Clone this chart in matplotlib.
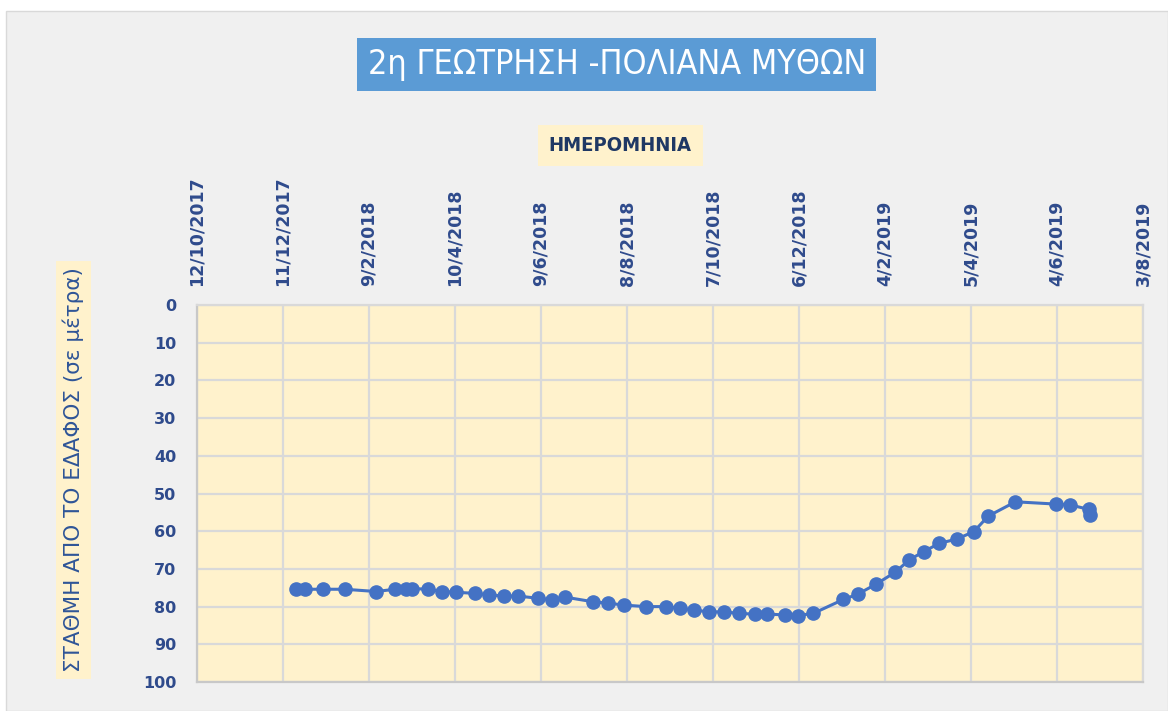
import matplotlib
matplotlib.use("Agg")
import matplotlib.pyplot as plt
import pandas as pd

TITLE = "2η ΓΕΩΤΡΗΣΗ -ΠΟΛΙΑΝΑ ΜΥΘΩΝ"
X_LABEL = "ΗΜΕΡΟΜΗΝΙΑ"
Y_LABEL = "ΣΤΑΘΜΗ ΑΠΟ ΤΟ ΕΔΑΦΟΣ (σε μέτρα)"

# measurement dates and depth to water (m)
dates = [
    "2017-12-20", "2017-12-26", "2018-01-08", "2018-01-23", "2018-02-14",
    "2018-02-27", "2018-03-07", "2018-03-11", "2018-03-22", "2018-04-01",
    "2018-04-11", "2018-04-24", "2018-05-04", "2018-05-14", "2018-05-24",
    "2018-06-07", "2018-06-17", "2018-06-26", "2018-07-15", "2018-07-26",
    "2018-08-06", "2018-08-21", "2018-09-04", "2018-09-14", "2018-09-24",
    "2018-10-04", "2018-10-15", "2018-10-25", "2018-11-05", "2018-11-14",
    "2018-11-26", "2018-12-05", "2018-12-16", "2019-01-06", "2019-01-16",
    "2019-01-29", "2019-02-11", "2019-02-21", "2019-03-03", "2019-03-14",
    "2019-03-26", "2019-04-07", "2019-04-17", "2019-05-06", "2019-06-03",
    "2019-06-13", "2019-06-26", "2019-06-27",
]
depth = [
    75.4, 75.4, 75.4, 75.4, 76.0,
    75.4, 75.4, 75.2, 75.4, 76.0,
    76.2, 76.5, 76.9, 77.2, 77.2,
    77.8, 78.2, 77.5, 78.7, 79.1,
    79.6, 80.0, 80.0, 80.5, 80.9,
    81.4, 81.4, 81.8, 82.0, 82.0,
    82.2, 82.4, 81.8, 78.1, 76.7,
    74.0, 70.9, 67.6, 65.4, 63.2,
    62.1, 60.1, 56.0, 52.2, 52.8,
    53.0, 54.2, 55.7,
]

x_ticks = [
    "2017-10-12", "2017-12-11", "2018-02-09", "2018-04-10", "2018-06-09",
    "2018-08-08", "2018-10-07", "2018-12-06", "2019-02-04", "2019-04-05",
    "2019-06-04", "2019-08-03",
]
x_tick_labels = [
    "12/10/2017", "11/12/2017", "9/2/2018", "10/4/2018", "9/6/2018",
    "8/8/2018", "7/10/2018", "6/12/2018", "4/2/2019", "5/4/2019",
    "4/6/2019", "3/8/2019",
]
y_ticks = [0, 10, 20, 30, 40, 50, 60, 70, 80, 90, 100]

BG = "#f0f0f0"
PLOT_BG = "#fff2cc"
LINE = "#4472c4"
TICK_COLOR = "#2f4b8c"

plt.rcParams["font.family"] = ["DejaVu Sans"]

fig = plt.figure(figsize=(11.68, 7.11), dpi=100, facecolor="white")
# light grey chart area inside a thin white margin
bg = plt.Rectangle((0.005, 0.0), 0.995, 0.985, transform=fig.transFigure,
                   facecolor=BG, edgecolor="#d9d9d9", linewidth=1.0, zorder=-10)
fig.add_artist(bg)

ax = fig.add_axes([0.1687, 0.0408, 0.8099, 0.5302])
ax.set_facecolor(PLOT_BG)

xd = pd.to_datetime(dates)
ax.plot(xd, depth, color=LINE, linewidth=2.2, marker="o", markersize=9.5,
        markerfacecolor=LINE, markeredgecolor=LINE, zorder=3)

tick_dates = pd.to_datetime(x_ticks)
ax.set_xlim(tick_dates[0], tick_dates[-1])
ax.set_xticks(tick_dates)
ax.set_xticklabels(x_tick_labels, rotation=90, fontsize=12.5, fontweight="bold",
                   color=TICK_COLOR)
ax.xaxis.tick_top()

ax.set_ylim(100, 0)
ax.set_yticks(y_ticks)
ax.set_yticklabels([str(v) for v in y_ticks], fontsize=11.5, fontweight="bold",
                   color=TICK_COLOR)

ax.tick_params(axis="both", length=0)
ax.tick_params(axis="x", pad=14)
ax.tick_params(axis="y", pad=15)
ax.grid(True, color="#d9d9d9", linewidth=1.6, zorder=0)
ax.set_axisbelow(True)
for side, sp in ax.spines.items():
    sp.set_color("#c8c8c8" if side in ("left", "bottom") else "#d9d9d9")
    sp.set_linewidth(1.6)

fig.text(0.528, 0.909, TITLE, ha="center", va="center", fontsize=24.5,
         color="white", fontstretch="condensed",
         bbox=dict(boxstyle="square,pad=0.3", facecolor="#5b9bd5", edgecolor="none"))

fig.text(0.531, 0.795, X_LABEL, ha="center", va="center", fontsize=14.5,
         fontweight="bold", color="#1f3864", fontstretch="condensed",
         bbox=dict(boxstyle="square,pad=0.55", facecolor=PLOT_BG, edgecolor="none"))

fig.text(0.063, 0.339, Y_LABEL, ha="center", va="center", rotation=90, fontsize=15.5,
         color="#2f5597",
         bbox=dict(boxstyle="square,pad=0.3", facecolor=PLOT_BG, edgecolor="none"))

plt.savefig("out.png", dpi=100, facecolor=fig.get_facecolor())
plt.close(fig)
